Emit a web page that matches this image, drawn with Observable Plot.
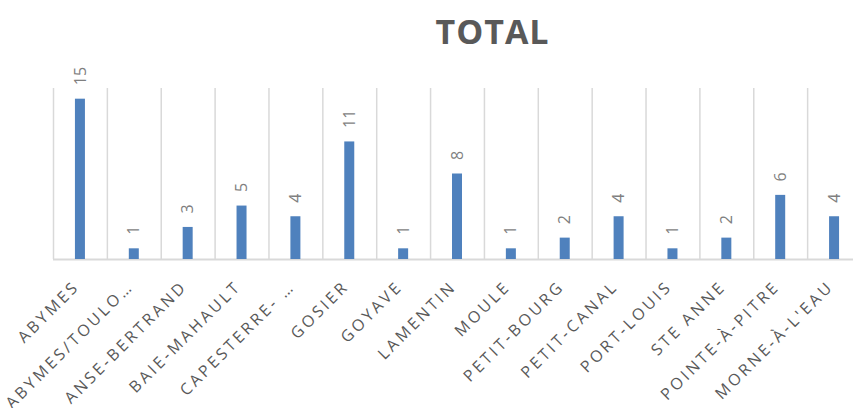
<!DOCTYPE html>
<html>
<head>
<meta charset="utf-8">
<script src="https://cdn.jsdelivr.net/npm/d3@7"></script>
<script src="https://cdn.jsdelivr.net/npm/@observablehq/plot@0.6"></script>
<style>
  html, body { margin: 0; padding: 0; background: #fff; overflow: hidden; width: 853px; height: 408px; }
  #wrap { position: relative; width: 853px; height: 408px; overflow: hidden; }
  #title { position: absolute; left: 0; width: 985px; top: 14px; text-align: center;
    font-family: "Open Sans", sans-serif; font-weight: bold; font-size: 34px; line-height: 1;
    color: #595959; letter-spacing: 1px; }
  #chart { position: absolute; left: 0; top: 0; }
  #chart svg { max-width: none !important; }
</style>
</head>
<body>
<div id="wrap">
  <div id="chart"></div>
  <div id="title">TOTAL</div>
</div>
<script>
const categories = ["ABYMES", "ABYMES/TOULO…", "ANSE-BERTRAND", "BAIE-MAHAULT", "CAPESTERRE- …", "GOSIER", "GOYAVE", "LAMENTIN", "MOULE", "PETIT-BOURG", "PETIT-CANAL", "PORT-LOUIS", "STE ANNE", "POINTE-À-PITRE", "MORNE-À-L'EAU"];
const values = [15, 1, 3, 5, 4, 11, 1, 8, 1, 2, 4, 1, 2, 6, 4];
const yMax = 16;

const data = categories.map((name, i) => ({name, value: values[i]}));

const W = 870, ML = 53, MR = 9;
const step = (W - ML - MR) / categories.length;

const chart = Plot.plot({
  width: W,
  height: 408,
  marginLeft: ML,
  marginRight: MR,
  marginTop: 88,
  marginBottom: 149,
  x: {domain: categories, padding: 0, round: false, axis: null},
  y: {domain: [0, yMax], axis: null},
  style: {background: "transparent", overflow: "visible", maxWidth: "none"},
  marks: [
    Plot.ruleX(categories, {x: d => d, dx: -step / 2, y1: 0, y2: yMax, stroke: "#d9d9d9", strokeWidth: 1.5}),
    Plot.ruleY([0], {stroke: "#d9d9d9", strokeWidth: 2}),
    Plot.barY(data, {x: "name", y: "value", fill: "#4f81bd", insetLeft: (step - 10) / 2, insetRight: (step - 10) / 2}),
    Plot.text(data, {x: "name", y: "value", text: d => String(d.value), rotate: -90, textAnchor: "start", dy: -14,
      fill: "#7f7f7f", fontSize: 16, fontFamily: "Open Sans, sans-serif"}),
    Plot.text(categories, {x: d => d, frameAnchor: "bottom", text: d => d, rotate: -45, textAnchor: "end", dy: 28, dx: 0,
      fill: "#595959", fontSize: 16, fontFamily: "Open Sans, sans-serif"})
  ]
});
const textGroups = chart.querySelectorAll("g[aria-label='text']");
if (textGroups.length > 1) textGroups[textGroups.length - 1].setAttribute("letter-spacing", "3px");
document.getElementById("chart").appendChild(chart);
</script>
</body>
</html>
